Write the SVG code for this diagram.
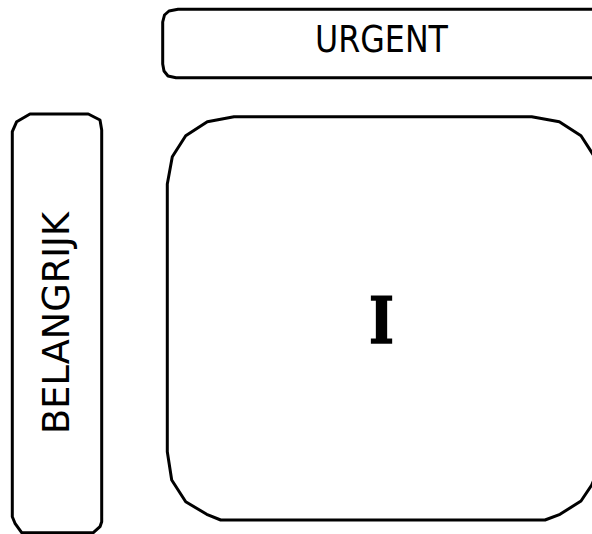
<svg xmlns="http://www.w3.org/2000/svg" width="592" height="534" viewBox="0 0 592 534">
<style>
.box{fill:#fff;stroke:#000;stroke-width:3;stroke-linejoin:round}
.lbl{font-family:"DejaVu Sans","Liberation Sans",sans-serif;font-size:37px;fill:#000}
.big{font-family:"DejaVu Serif","Liberation Serif",serif;font-weight:bold;font-size:63px;fill:#000;stroke:#000;stroke-width:1.5}
</style>
<rect width="592" height="534" fill="#fff"/>
<g id="urgent">
<path class="box" d="M 600 9.3 H 178 L 169 11 L 164.5 15 L 162.7 22 V 64 L 164 71 L 168 76 L 176 77.7 H 600"/>
<text class="lbl" x="315" y="52" textLength="133" lengthAdjust="spacingAndGlyphs">URGENT</text>
</g>
<g id="belangrijk">
<path class="box" d="M 12.3 516.7 V 131.7 L 16.7 121.7 L 30 114 H 88.3 L 100 120 L 101.7 130 V 521.7 L 100 526.7 L 93.3 532.7 H 21.7 L 15 523.3 Z"/>
<text class="lbl" transform="translate(69,323) rotate(-90)" x="0" y="0" text-anchor="middle" textLength="222" lengthAdjust="spacingAndGlyphs">BELANGRIJK</text>
</g>
<g id="quadrant">
<path class="box" d="M 167.3 184 L 172.3 156.7 L 185.7 135.7 L 207.3 121.7 L 234 116.7 H 531.7 L 559.3 121.7 L 581 135.7 L 594 156 L 599 175 L 601 190 V 455 L 598 470 L 591.7 485 L 581 501 L 560 514.3 L 545 520 H 220.7 L 206.7 514.3 L 185.7 501.7 L 171.7 480 L 167.3 451.7 Z"/>
<text class="big" x="381.5" y="342.5" text-anchor="middle" textLength="25" lengthAdjust="spacingAndGlyphs">I</text>
</g>
<g id="connectors"></g>
</svg>
